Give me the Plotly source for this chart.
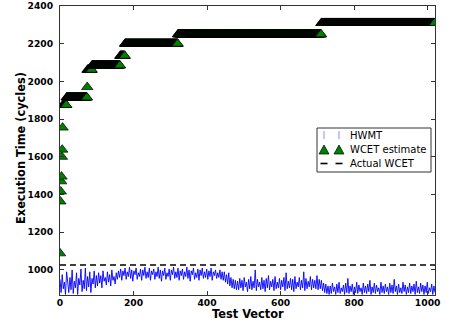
import plotly.graph_objects as go

# ---- data ----
hwmt_step = 3  # HWMT sampled every 3rd test vector
hwmt = [
    # 0..99
    950, 880, 975, 900, 935, 870, 990, 915, 880, 960, 895, 1000, 875, 940, 905, 985, 870, 955, 920, 1005,
    885, 945, 900, 1010, 890, 965, 910, 990, 880, 955, 925, 995, 905, 970,
    # 102..159
    915, 985, 930, 970, 905, 995, 940, 960, 920, 990, 935, 975, 915, 1000, 945, 965, 925, 985, 950, 995,
    # 162..441
    960, 1005, 945, 995, 970, 1010, 950, 990, 965, 1015, 955, 1000, 940, 995, 975, 1010, 950, 985, 965, 1005,
    945, 1000, 970, 1015, 955, 990, 960, 1010, 945, 995, 975, 1005, 950, 990, 965, 1015, 955, 1000, 940, 995,
    970, 1010, 950, 985, 965, 1005, 945, 1000, 975, 1015, 955, 990, 960, 1010, 945, 995, 970, 1005, 950, 990,
    965, 1015, 955, 1000, 940, 995, 975, 1010, 950, 985, 960, 1005, 945, 1000, 970, 1010, 955, 990, 960, 1005,
    950, 995, 965, 1010, 945, 990, 970, 1000, 955, 985, 960, 1000, 950, 990,
    # 444..480
    945, 990, 935, 975, 925, 985, 915, 960, 905, 950, 900, 945, 895,
    # 483..702
    940, 895, 955, 905, 945, 890, 960, 910, 935, 885, 950, 900, 965, 895, 940, 905, 1000, 890, 950, 910,
    935, 895, 960, 900, 945, 885, 955, 905, 970, 895, 940, 910, 950, 890, 965, 900, 935, 905, 955, 895,
    945, 910, 960, 890, 985, 900, 940, 905, 955, 895, 950, 885, 965, 900, 935, 910, 960, 895, 945, 905,
    990, 890, 955, 900, 940, 910, 965, 895, 950, 905, 945, 900, 970, 895,
    # 705..732
    950, 900, 945, 890, 930, 880, 925, 875, 915, 870,
    # 735..1020
    915, 875, 930, 885, 910, 870, 925, 880, 935, 875, 905, 885, 920, 870, 930, 880, 955, 875, 915, 885,
    925, 870, 910, 880, 935, 875, 920, 885, 905, 870, 930, 880, 915, 875, 925, 885, 945, 870, 910, 880,
    930, 875, 920, 885, 905, 870, 935, 880, 915, 875, 925, 885, 910, 870, 930, 880, 920, 875, 950, 885,
    915, 870, 925, 880, 905, 875, 935, 885, 920, 870, 910, 880, 930, 875, 915, 885, 925, 870, 940, 880,
    910, 875, 930, 885, 920, 870, 915, 880, 935, 875, 905, 885, 925, 870, 915, 880,
]

# WCET estimate: a step series given as level / number of consecutive test vectors
wcet_levels = [1088, 1363, 1416, 1470, 1495, 1600, 1638, 1755, 1875, 1915, 1970, 2062, 2085, 2136, 2200, 2250, 2310]
wcet_runs = [1, 1, 1, 1, 1, 1, 1, 1, 10, 56, 1, 12, 77, 13, 144, 390, 309]

actual_wcet = 1026
x_range = [0, 1020]
y_range = [867, 2400]
x_ticks = [0, 200, 400, 600, 800, 1000]
y_ticks = [1000, 1200, 1400, 1600, 1800, 2000, 2200, 2400]
legend_labels = ["HWMT", "WCET estimate", "Actual WCET"]
x_title = "Test Vector"
y_title = "Execution Time (cycles)"

# ---- build series ----
hwmt_x = [i * hwmt_step for i in range(len(hwmt))]
wcet_y, wcet_colors = [], []
for lvl, n in zip(wcet_levels, wcet_runs):
    wcet_y.extend([lvl] * n)
    # overlapping black-edged markers render as a near-black strip; the last one stays green
    wcet_colors.extend(["#082808"] * (n - 1) + ["#008000"])
wcet_x = list(range(len(wcet_y)))

GREEN = "#008000"
fig = go.Figure()

fig.add_trace(go.Scatter(
    x=hwmt_x, y=hwmt, mode="lines",
    line=dict(color="rgba(0,0,255,0.9)", width=1),
    showlegend=False, hoverinfo="skip"))

fig.add_trace(go.Scatter(
    x=wcet_x, y=wcet_y, mode="markers",
    marker=dict(symbol="triangle-up", size=10, color=wcet_colors,
                line=dict(color="black", width=0.7)),
    showlegend=False))

fig.add_trace(go.Scatter(
    x=x_range, y=[actual_wcet, actual_wcet], mode="lines",
    line=dict(color="black", width=1.6, dash="6px,4px"),
    showlegend=False))

axis_common = dict(
    showline=True, linecolor="#333", linewidth=1, mirror="ticks",
    ticks="inside", ticklen=4, tickcolor="#333", tickwidth=1,
    showgrid=False, zeroline=False, automargin=False,
    ticklabeloverflow="allow",
    tickfont=dict(family="DejaVu Sans", size=9.2, color="black", weight="bold"),
)

# ---- hand-drawn matplotlib-style legend (paper coordinates) ----
W, H = 455, 327
ml, mr, mt, mb = 60, 20, 6, 32
pw, ph = W - ml - mr, H - mt - mb


def px(xp):
    return (xp - ml) / pw


def py(yp):
    return (H - mb - yp) / ph


shapes = [dict(type="rect", xref="paper", yref="paper",
               x0=px(317), x1=px(431), y0=py(172), y1=py(128),
               line=dict(color="#333", width=1), fillcolor="white", layer="above")]
row_y = [135, 149.5, 163.5]
sym_x = [324, 339]
for sx in sym_x:
    shapes.append(dict(type="line", xref="paper", yref="paper",
                       x0=px(sx), x1=px(sx), y0=py(row_y[0] - 4), y1=py(row_y[0] + 4),
                       line=dict(color="#8c8cff", width=1), layer="above"))
    x0, x1, xm = px(sx - 5), px(sx + 5), px(sx)
    yb, yt = py(row_y[1] + 4.5), py(row_y[1] - 4.5)
    shapes.append(dict(type="path", xref="paper", yref="paper",
                       path=f"M {x0},{yb} L {x1},{yb} L {xm},{yt} Z",
                       fillcolor=GREEN, line=dict(color="black", width=0.7), layer="above"))
    shapes.append(dict(type="line", xref="paper", yref="paper",
                       x0=px(sx - 3.5), x1=px(sx + 3.5), y0=py(row_y[2]), y1=py(row_y[2]),
                       line=dict(color="black", width=1.6), layer="above"))

title_font = dict(family="DejaVu Sans", size=11.4, color="black", weight="bold")
annotations = [dict(xref="paper", yref="paper", x=px(348), y=py(ry), text=t,
                    xanchor="left", yanchor="middle", showarrow=False,
                    font=dict(family="DejaVu Sans", size=10, color="black"))
               for t, ry in zip(legend_labels, row_y)]
annotations.append(dict(xref="paper", yref="paper", x=0.5, y=py(314), text=x_title,
                        xanchor="center", yanchor="middle", showarrow=False, font=title_font))
annotations.append(dict(xref="paper", yref="paper", x=px(20.5), y=py(148.5), text=y_title, textangle=-90,
                        xanchor="center", yanchor="middle", showarrow=False, font=title_font))

fig.update_layout(
    width=W, height=H,
    margin=dict(l=ml, r=mr, t=mt, b=mb),
    paper_bgcolor="white", plot_bgcolor="white",
    xaxis=dict(range=x_range, tickvals=x_ticks, ticklabelstandoff=-1, **axis_common),
    yaxis=dict(range=y_range, tickvals=y_ticks, ticklabelstandoff=4, **axis_common),
    shapes=shapes, annotations=annotations,
    showlegend=False,
)

fig.write_html("out.html")
